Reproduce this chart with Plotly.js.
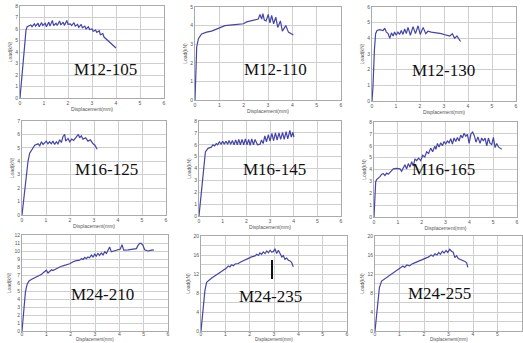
<!DOCTYPE html>
<html><head><meta charset="utf-8">
<script src="https://cdn.plot.ly/plotly-3.0.1.min.js"></script>
<style>html,body{margin:0;padding:0;background:#fff;}#chart{width:523px;height:343px;}</style>
</head><body><div id="chart"></div>
<script>
// Specimen names
const specimenNames = ['M12-105','M12-110','M12-130','M16-125','M16-145','M16-165','M24-210','M24-235','M24-255'];
const xTitle = 'Displacement(mm)';
const yTitle = 'Load(kN)';

// [displacement, load] pairs
const m12_105 = [[0,0],[0.05,1.2],[0.12,3.0],[0.2,5.0],[0.25,5.9],[0.3,6.2],[0.35,6.25],[0.45,6.35],[0.5,6.2],[0.6,6.45],[0.65,6.25],[0.75,6.5],[0.8,6.2],[0.9,6.55],[0.95,6.3],[1.05,6.5],[1.1,6.2],[1.2,6.6],[1.25,6.25],[1.35,6.75],[1.4,6.3],[1.5,6.5],[1.55,6.3],[1.65,6.7],[1.7,6.35],[1.8,6.6],[1.85,6.3],[1.95,6.75],[2.0,6.4],[2.1,6.45],[2.15,6.3],[2.25,6.55],[2.3,6.25],[2.4,6.4],[2.45,6.15],[2.55,6.4],[2.6,6.1],[2.7,6.25],[2.75,6.0],[2.85,6.2],[2.9,5.95],[3.0,6.0],[3.05,5.8],[3.15,5.9],[3.2,5.7],[3.3,5.85],[3.35,5.5],[3.45,5.6],[3.5,5.3],[3.6,5.1],[3.7,4.9],[3.8,4.7],[3.9,4.5],[4.0,4.35]];
const m12_110 = [[0,0],[0.03,1.8],[0.07,2.85],[0.14,3.3],[0.27,3.55],[0.48,3.65],[0.68,3.7],[0.96,3.85],[1.23,4.0],[1.64,4.05],[1.99,4.1],[2.12,4.2],[2.47,4.3],[2.6,4.35],[2.67,4.6],[2.74,4.35],[2.79,4.65],[2.85,4.3],[2.92,4.25],[3.01,4.6],[3.08,4.15],[3.15,4.55],[3.23,4.1],[3.32,4.45],[3.4,3.9],[3.51,4.25],[3.59,3.7],[3.73,4.0],[3.84,3.65],[4.04,3.5]];
const m12_130 = [[0,0],[0.04,0.9],[0.1,3.25],[0.15,4.3],[0.21,4.5],[0.32,4.55],[0.46,4.5],[0.53,4.65],[0.6,4.4],[0.67,4.3],[0.74,4.0],[0.81,4.35],[0.88,4.15],[0.94,4.4],[1.01,4.2],[1.08,4.4],[1.15,4.25],[1.22,4.5],[1.29,4.25],[1.36,4.6],[1.43,4.3],[1.5,4.7],[1.6,4.2],[1.71,4.75],[1.81,4.3],[1.92,4.8],[2.01,4.25],[2.13,4.7],[2.24,4.3],[2.33,4.45],[2.47,4.4],[2.68,4.35],[2.89,4.3],[3.1,4.2],[3.24,4.15],[3.35,4.3],[3.44,4.0],[3.54,4.15],[3.69,3.8]];
const m16_125 = [[0,0],[0.07,1.25],[0.15,2.7],[0.25,4.0],[0.32,4.6],[0.46,4.95],[0.53,5.2],[0.67,5.3],[0.74,5.15],[0.81,5.45],[0.88,5.25],[1.01,5.5],[1.08,5.3],[1.15,5.45],[1.22,5.3],[1.29,5.5],[1.36,5.25],[1.43,5.45],[1.5,5.3],[1.57,5.6],[1.64,5.4],[1.71,5.85],[1.78,6.0],[1.82,5.5],[1.92,5.7],[1.99,5.45],[2.07,5.65],[2.15,5.55],[2.26,5.85],[2.35,6.0],[2.4,5.75],[2.47,5.9],[2.54,5.65],[2.65,5.75],[2.75,5.5],[2.85,5.6],[2.96,5.3],[3.04,5.2],[3.13,4.9]];
const m16_145 = [[0,0],[0.08,1.75],[0.18,4.0],[0.27,5.4],[0.38,5.7],[0.52,5.8],[0.59,6.0],[0.66,5.9],[0.73,6.1],[0.79,6.0],[0.86,6.25],[0.93,6.05],[1.0,6.3],[1.07,6.05],[1.14,6.3],[1.21,6.05],[1.27,6.35],[1.34,6.05],[1.41,6.35],[1.48,6.0],[1.55,6.4],[1.62,6.0],[1.68,6.45],[1.75,6.0],[1.82,6.45],[1.89,6.0],[1.96,6.5],[2.03,6.0],[2.1,6.45],[2.16,5.95],[2.23,6.5],[2.3,6.0],[2.37,6.45],[2.47,6.0],[2.58,6.05],[2.64,6.4],[2.71,6.1],[2.78,6.75],[2.85,6.25],[2.93,6.85],[3.0,6.3],[3.08,6.95],[3.15,6.35],[3.23,7.0],[3.3,6.4],[3.38,7.0],[3.45,6.45],[3.53,7.05],[3.6,6.45],[3.68,7.1],[3.75,6.5],[3.84,7.2],[3.9,6.65],[3.97,7.05],[4.01,6.65]];
const m16_165 = [[0,0],[0.03,2.1],[0.07,2.95],[0.11,3.15],[0.18,3.25],[0.25,3.4],[0.32,3.6],[0.39,3.65],[0.46,3.5],[0.53,3.7],[0.6,3.6],[0.67,3.8],[0.74,3.9],[0.81,4.05],[0.95,4.1],[1.09,4.05],[1.16,3.85],[1.23,4.15],[1.3,4.4],[1.37,4.05],[1.44,4.5],[1.51,4.2],[1.58,4.65],[1.65,4.3],[1.72,4.9],[1.79,4.75],[1.87,4.95],[1.96,4.75],[2.04,5.2],[2.13,5.05],[2.21,5.5],[2.29,5.35],[2.38,5.8],[2.46,5.5],[2.55,5.95],[2.6,5.7],[2.66,6.2],[2.73,5.9],[2.8,6.25],[2.87,6.0],[2.94,6.35],[3.01,6.15],[3.08,6.4],[3.15,6.25],[3.22,6.6],[3.29,6.15],[3.36,6.65],[3.43,6.35],[3.5,6.7],[3.57,6.4],[3.64,6.9],[3.71,6.65],[3.78,7.05],[3.85,6.8],[3.92,6.95],[3.99,6.2],[4.07,7.0],[4.14,7.15],[4.21,6.85],[4.28,6.3],[4.36,6.75],[4.45,6.2],[4.52,6.65],[4.59,6.4],[4.66,6.65],[4.73,6.0],[4.8,6.65],[4.87,6.2],[4.94,6.1],[5.01,6.7],[5.08,5.85],[5.15,6.2],[5.22,5.9],[5.29,5.8],[5.36,5.7]];
const m24_210 = [[0,0],[0.04,1.6],[0.08,3.2],[0.14,4.85],[0.21,5.85],[0.29,6.25],[0.38,6.45],[0.52,6.65],[0.66,6.85],[0.79,7.05],[0.86,7.25],[0.93,7.4],[1.0,7.6],[1.07,7.25],[1.14,7.5],[1.21,7.65],[1.27,7.55],[1.41,7.8],[1.55,8.0],[1.68,8.15],[1.82,8.25],[1.96,8.4],[2.1,8.65],[2.23,8.8],[2.37,8.85],[2.44,9.05],[2.51,8.95],[2.58,9.2],[2.64,9.05],[2.71,9.25],[2.78,9.15],[2.85,9.5],[2.92,9.25],[2.99,9.6],[3.05,9.35],[3.12,9.7],[3.19,9.45],[3.26,9.75],[3.33,9.5],[3.4,9.9],[3.47,9.7],[3.53,10.15],[3.6,10.5],[3.67,9.9],[3.81,10.0],[3.95,10.1],[4.04,10.25],[4.11,10.8],[4.18,10.1],[4.36,10.15],[4.56,10.25],[4.7,10.3],[4.77,10.7],[4.84,10.95],[4.9,10.95],[4.97,10.7],[5.04,10.15],[5.18,10.0],[5.32,10.1],[5.42,10.15]];
const m24_235 = [[0,0],[0.05,2.9],[0.11,5.7],[0.16,8.5],[0.23,10.25],[0.3,10.6],[0.44,11.15],[0.58,11.65],[0.71,12.1],[0.85,12.7],[0.99,13.0],[1.05,13.25],[1.12,13.7],[1.19,13.5],[1.26,13.95],[1.33,13.75],[1.4,14.1],[1.53,14.2],[1.67,14.65],[1.81,14.9],[1.95,15.3],[2.08,15.6],[2.22,15.8],[2.29,16.15],[2.36,15.9],[2.42,16.45],[2.49,16.15],[2.56,16.65],[2.63,16.3],[2.7,16.85],[2.77,16.45],[2.84,17.0],[2.9,16.6],[2.97,16.7],[3.04,17.3],[3.11,16.3],[3.18,17.0],[3.25,16.3],[3.32,15.6],[3.38,15.9],[3.45,15.1],[3.52,15.35],[3.59,14.9],[3.66,14.75],[3.73,14.4],[3.79,13.5]];
const m24_255 = [[0,0],[0.05,2.7],[0.11,6.1],[0.18,9.15],[0.27,10.5],[0.41,11.0],[0.55,11.5],[0.68,12.05],[0.82,12.55],[0.96,13.0],[1.05,13.2],[1.14,13.7],[1.21,13.4],[1.3,13.9],[1.41,13.7],[1.51,14.1],[1.64,14.4],[1.78,14.65],[1.92,14.9],[2.05,15.3],[2.19,15.6],[2.29,16.0],[2.37,15.75],[2.45,16.25],[2.53,16.0],[2.6,16.55],[2.67,16.15],[2.75,16.8],[2.82,16.4],[2.9,16.95],[2.97,16.55],[3.05,17.2],[3.12,16.8],[3.19,16.6],[3.26,15.45],[3.33,15.85],[3.4,15.25],[3.49,15.05],[3.59,14.9],[3.67,14.65],[3.74,14.35],[3.79,13.4]];

// Axis ticks
const xTicks = [0,1,2,3,4,5,6];
const yMax = [8,5,6,7,8,8,12,20,20];
const yStep = [1,1,1,1,1,1,1,2,2];
const yLabelStep = [1,1,1,1,1,1,1,4,4];

const series = [m12_105,m12_110,m12_130,m16_125,m16_145,m16_165,m24_210,m24_235,m24_255];

// Layout (pixel boxes of each plot area: left, right, top, bottom)
const W = 523, H = 343;
const boxes = [
  [20,164,6,98],[195,341,7,100],[372,516,7,101],
  [22,166,121,215],[199,341,121,216],[374,517,122,217],
  [22,168,235,331],[201,347,236,331],[375,522,236,331]
];
const labelPos = [[105,69],[275,69],[443,70],[106,169],[274,169],[443,169],[102,294],[270,296],[439,293]];

const lineColor = '#4444aa';
const tickFont = {family:'Liberation Sans, Arial, sans-serif', size:5, color:'#555'};

const traces = [];
const layout = {
  width: W, height: H,
  margin: {l:0,r:0,t:0,b:0},
  paper_bgcolor: '#fff', plot_bgcolor: '#fff',
  showlegend: false,
  annotations: [],
  shapes: []
};

series.forEach((s, i) => {
  const n = i + 1;
  const sfx = n === 1 ? '' : String(n);
  const bottomRow = i >= 6;
  traces.push({
    type: 'scatter', mode: 'lines',
    x: s.map(p => p[0]), y: s.map(p => p[1]),
    xaxis: 'x' + sfx, yaxis: 'y' + sfx,
    line: {color: lineColor, width: 1.2},
    hoverinfo: 'skip'
  });
  const b = boxes[i];
  const yv = [], yt = [];
  for (let v = 0; v <= yMax[i] + 1e-9; v += yStep[i]) {
    yv.push(v);
    yt.push(v % yLabelStep[i] === 0 ? String(v) : '');
  }
  layout['xaxis' + sfx] = {
    domain: [b[0]/W, b[1]/W], anchor: 'y' + sfx,
    range: [0, 6], tickvals: xTicks, ticktext: xTicks.map(String),
    showgrid: true, gridcolor: '#cfcfcf', gridwidth: 1,
    showline: true, linecolor: '#aaa', linewidth: 1, mirror: true,
    zeroline: false, ticks: '', tickfont: tickFont,
    ticklabelstandoff: bottomRow ? -2 : 0,
    title: bottomRow ? {text: ''} : {text: xTitle, font: tickFont, standoff: 2},
    fixedrange: true
  };
  if (bottomRow) {
    // bottom row: axis title kept just inside the lower edge
    layout.annotations.push({
      xref: 'paper', yref: 'paper',
      x: (b[0] + b[1]) / 2 / W, y: 0,
      xanchor: 'center', yanchor: 'bottom',
      text: xTitle, showarrow: false,
      font: {family: tickFont.family, size: 4.5, color: tickFont.color}, borderpad: 0
    });
  }
  layout['yaxis' + sfx] = {
    domain: [1 - b[3]/H, 1 - b[2]/H], anchor: 'x' + sfx,
    range: [0, yMax[i]], tickvals: yv, ticktext: yt,
    showgrid: true, gridcolor: '#cfcfcf', gridwidth: 1,
    showline: true, linecolor: '#aaa', linewidth: 1, mirror: true,
    zeroline: false, ticks: '', tickfont: tickFont,
    title: {text: yTitle, font: tickFont, standoff: 2},
    fixedrange: true
  };
  layout.annotations.push({
    xref: 'paper', yref: 'paper',
    x: labelPos[i][0]/W, y: 1 - labelPos[i][1]/H,
    xanchor: 'center', yanchor: 'middle',
    text: specimenNames[i], showarrow: false,
    font: {family: 'Liberation Serif, Times New Roman, serif', size: 17, color: '#111'}
  });
});

// vertical mark in the M24-235 panel
layout.shapes.push({type:'line', xref:'paper', yref:'paper',
  x0: 272/W, x1: 272/W, y0: 1 - 260/H, y1: 1 - 279/H,
  line: {color:'#111', width: 2}});

Plotly.newPlot('chart', traces, layout, {displayModeBar: false, staticPlot: true});
</script>
</body></html>
